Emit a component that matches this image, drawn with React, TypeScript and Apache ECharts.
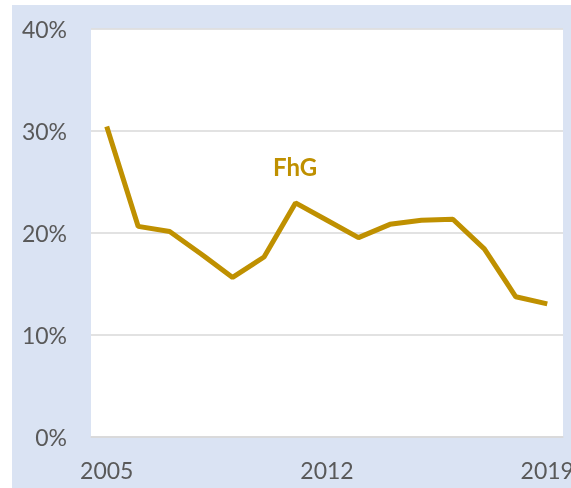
import React, { useEffect, useRef } from "react";
import * as echarts from "echarts";

const years = ["2005","2006","2007","2008","2009","2010","2011","2012","2013","2014","2015","2016","2017","2018","2019"];
const fhgShare = [30.4, 20.6, 20.1, 17.9, 15.6, 17.6, 22.9, 21.2, 19.5, 20.8, 21.2, 21.3, 18.4, 13.7, 13.0];
const seriesName = "FhG";
const yTicks = { min: 0, max: 40, interval: 10 };

export default function App() {
  const ref = useRef<HTMLDivElement>(null);
  useEffect(() => {
    if (!ref.current) return;
    document.body.style.margin = "0";
    document.body.style.overflow = "hidden";
    document.documentElement.style.overflow = "hidden";
    const chart = echarts.init(ref.current, undefined, { renderer: "svg", width: 571, height: 488 });
    const font = "Lato, 'Open Sans', sans-serif";
    chart.setOption({
      animation: false,
      graphic: [
        { type: "rect", z: -10, shape: { x: 12, y: 5, width: 559, height: 483 }, style: { fill: "#dae3f3" }, silent: true },
        { type: "text", left: 273, top: 154, style: { text: seriesName, fill: "#bf9000", font: `bold 24px ${font}` } },
      ],
      grid: {
        left: 91, right: 8, top: 28.5, bottom: 51.5,
        show: true, backgroundColor: "#ffffff", borderWidth: 0,
        containLabel: false, outerBoundsMode: "none",
      },
      xAxis: {
        type: "category",
        data: years,
        boundaryGap: true,
        axisTick: { show: false },
        axisLine: { lineStyle: { color: "#d9d9d9", width: 1.5 } },
        axisLabel: { interval: 6, color: "#595959", fontSize: 23, fontFamily: font, margin: 22 },
      },
      yAxis: {
        type: "value",
        min: yTicks.min,
        max: yTicks.max,
        interval: yTicks.interval,
        axisLine: { show: false },
        axisTick: { show: false },
        splitLine: { lineStyle: { color: "#d9d9d9", width: 1.5 } },
        axisLabel: { formatter: "{value}%", color: "#595959", fontSize: 23, fontFamily: font, margin: 24 },
      },
      series: [
        {
          name: seriesName,
          type: "line",
          data: fhgShare,
          symbol: "none",
          lineStyle: { color: "#bf9000", width: 5 },
        },
      ],
    });
    return () => chart.dispose();
  }, []);
  return <div ref={ref} style={{ position: "fixed", left: 0, top: 0, width: 571, height: 488, overflow: "hidden" }} />;
}
